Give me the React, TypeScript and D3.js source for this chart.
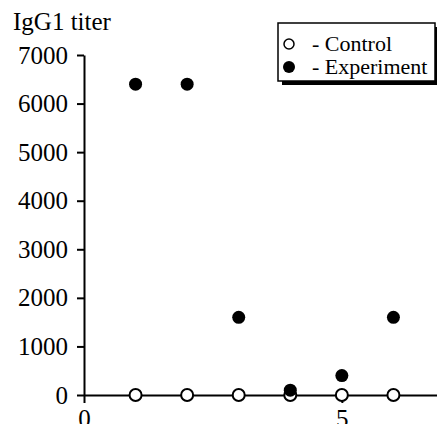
import React, { useEffect, useRef } from 'react';
import * as d3 from 'd3';

const days = [1, 2, 3, 4, 5, 6];
const controlTiter = [0, 0, 0, 0, 0, 0];
const experimentTiter = [6400, 6400, 1600, 100, 400, 1600];
const yTicks = [0, 1000, 2000, 3000, 4000, 5000, 6000, 7000];
const xTicks = [0, 5];
const legendLabels = ['- Control', '- Experiment'];

export default function App() {
  const ref = useRef<SVGSVGElement>(null);

  useEffect(() => {
    document.body.style.margin = '0';
    const width = 437;
    const height = 424;
    const font = '"Liberation Serif", "Times New Roman", serif';

    const svg = d3.select(ref.current);
    svg.selectAll('*').remove();
    svg.attr('width', width).attr('height', height);

    // scales: x 0..7 from the y axis out past the right edge
    const x = d3.scaleLinear().domain([0, 7]).range([84, 445]);
    const y = d3.scaleLinear().domain([0, 7000]).range([395, 55]);

    // y axis
    const yAxis = svg.append('g')
      .attr('transform', `translate(${x(0)},0)`)
      .call(d3.axisLeft(y).tickValues(yTicks).tickSize(7).tickSizeOuter(0).tickPadding(9).tickFormat(d3.format('d')));
    yAxis.select('.domain').attr('stroke-width', 2);
    yAxis.selectAll('line').attr('stroke-width', 2);
    yAxis.selectAll('text').attr('font-family', font).attr('font-size', 25).attr('fill', '#000');

    // x axis (labels sit half off the bottom edge, as in the original)
    const xAxis = svg.append('g')
      .attr('transform', `translate(0,${y(0)})`)
      .call(d3.axisBottom(x).tickValues(xTicks).tickSize(8).tickSizeOuter(0).tickPadding(6).tickFormat(d3.format('d')));
    xAxis.select('.domain').attr('stroke-width', 2);
    xAxis.selectAll('line').attr('stroke-width', 2);
    xAxis.selectAll('text').attr('font-family', font).attr('font-size', 25).attr('fill', '#000');

    // axis title
    svg.append('text')
      .attr('x', 13)
      .attr('y', 30)
      .attr('font-family', font)
      .attr('font-size', 25)
      .text('IgG1 titer');

    // control (open circles)
    svg.selectAll('circle.control')
      .data(days)
      .join('circle')
      .attr('class', 'control')
      .attr('cx', d => x(d))
      .attr('cy', (d, i) => y(controlTiter[i]))
      .attr('r', 6)
      .attr('fill', '#fff')
      .attr('stroke', '#000')
      .attr('stroke-width', 2);

    // experiment (filled dots) on top
    svg.selectAll('circle.experiment')
      .data(days)
      .join('circle')
      .attr('class', 'experiment')
      .attr('cx', d => x(d))
      .attr('cy', (d, i) => y(experimentTiter[i]))
      .attr('r', 6.5)
      .attr('fill', '#000');

    // legend with drop shadow
    const legend = svg.append('g');
    legend.append('rect')
      .attr('x', 282).attr('y', 27)
      .attr('width', 156).attr('height', 58)
      .attr('fill', '#000');
    legend.append('rect')
      .attr('x', 278).attr('y', 23)
      .attr('width', 157).attr('height', 58)
      .attr('fill', '#fff')
      .attr('stroke', '#000')
      .attr('stroke-width', 1.5);

    legendLabels.forEach((label, i) => {
      const cy = 44 + i * 23;
      if (i === 0) {
        legend.append('circle')
          .attr('cx', 289).attr('cy', cy).attr('r', 5)
          .attr('fill', '#fff').attr('stroke', '#000').attr('stroke-width', 1.5);
      } else {
        legend.append('circle')
          .attr('cx', 289).attr('cy', cy).attr('r', 6)
          .attr('fill', '#000');
      }
      legend.append('text')
        .attr('x', 312)
        .attr('y', cy + 7)
        .attr('font-family', font)
        .attr('font-size', 22)
        .text(label);
    });
  }, []);

  return <svg ref={ref} style={{ display: 'block' }}></svg>;
}
